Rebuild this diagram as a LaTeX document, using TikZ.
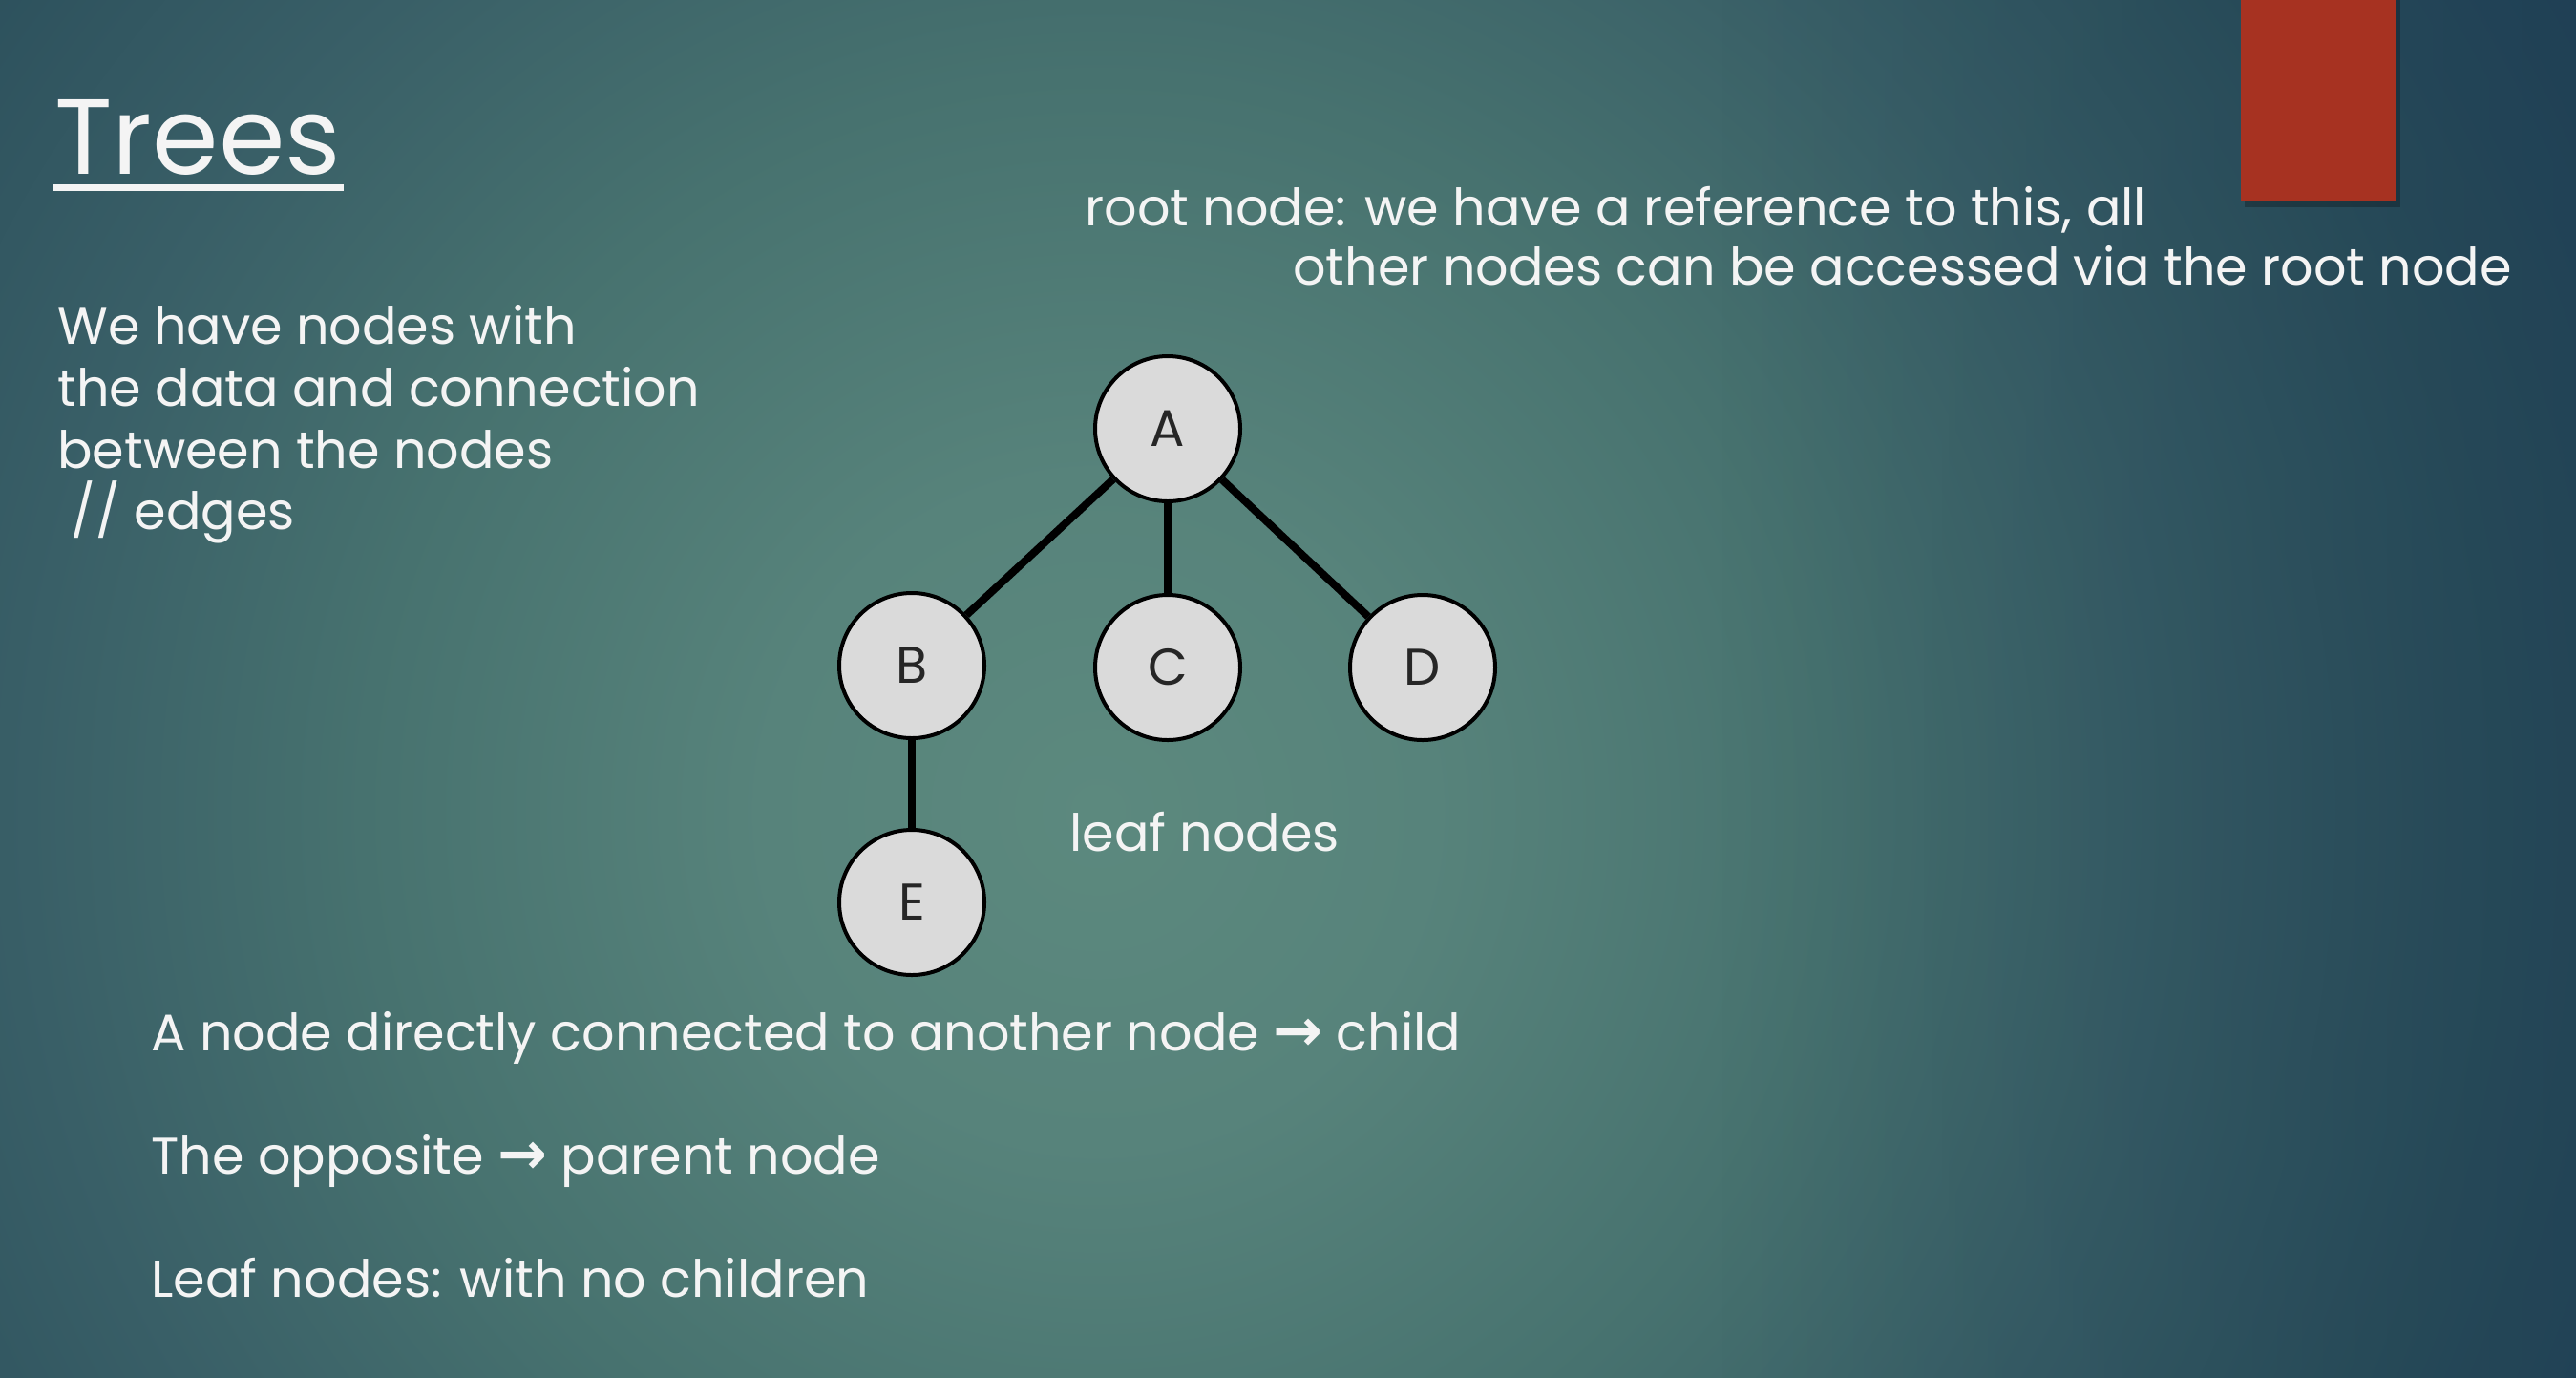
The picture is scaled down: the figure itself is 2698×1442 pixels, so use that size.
\documentclass[tikz,border=0pt]{standalone}
\usepackage{fontspec}
\setmainfont{Poppins}
\newfontfamily\symfont{DejaVu Sans}
\usetikzlibrary{calc,fadings}
\definecolor{bgin}{HTML}{5C897E}
\definecolor{bgA}{HTML}{57837B}
\definecolor{bgB}{HTML}{47726F}
\definecolor{bgC}{HTML}{395F67}
\definecolor{bgD}{HTML}{2C505C}
\definecolor{bgout}{HTML}{23445A}
\definecolor{bgdark}{HTML}{1C3C50}
\definecolor{txt}{HTML}{F4F4F4}
\definecolor{nodefill}{HTML}{DADADA}
\definecolor{redbox}{HTML}{A73221}
% the edge of the shaded circle is at 25bp
\pgfdeclareradialshading{bgshade}{\pgfpoint{0bp}{0bp}}{color(0bp)=(bgin); color(5bp)=(bgA); color(11bp)=(bgB); color(16bp)=(bgC); color(21bp)=(bgD); color(25bp)=(bgout); color(50bp)=(bgout)}
\tikzset{
  treenode/.style={circle, draw=black, line width=2pt, fill=nodefill, minimum size=76pt, inner sep=0pt, font=\fontsize{27}{30}\selectfont, text=black!85},
  treeedge/.style={line width=4pt, black},
  bodytext/.style={anchor=base west, inner sep=0pt, text=txt, font=\fontsize{27}{33}\selectfont},
}
\newcommand{\rarr}{{\symfont\bfseries\fontsize{31}{33}\selectfont →}}
\begin{document}
\begin{tikzpicture}[x=0.5pt,y=-0.5pt]
\useasboundingbox (0,0) rectangle (2698,1442);
\begin{scope}
\clip (0,0) rectangle (2698,1442);
\fill[bgout] (0,0) rectangle (2698,1442);
\shade[shading=bgshade] (1150,850) circle[radius=1750];
\fill[bgdark, opacity=0.45, path fading=west] (1800,-40) rectangle (2740,1480);
\end{scope}
% red box with shadow
\fill[black, opacity=0.25] (2351,0) rectangle (2514,217);
\fill[redbox] (2347,0) rectangle (2509,210);
% title
\node[anchor=base west, inner sep=0pt, text=txt, font=\fontsize{56}{64}\selectfont] (title) at (57,182) {Trees};
\draw[txt, line width=3.5pt] ($(title.base west)+(-2,14)$) -- ($(title.base east)+(2,14)$);
% left paragraph
\node[bodytext] (l1) at (60,360) {We have nodes with};
\node[bodytext] (l2) at (60,425) {the data and connection};
\node[bodytext] (l3) at (60,490) {between the nodes};
\node[bodytext] (l4) at (60,554) {\ // edges};
% root text
\node[bodytext] (r1) at (1136,236) {root node: we have a reference to this, all};
\node[bodytext] (r2) at (1354,298) {other nodes can be accessed via the root node};
% tree
\node[treenode] (A) at (1223,449) {A};
\node[treenode] (B) at (955,697) {B};
\node[treenode] (C) at (1223,699) {C};
\node[treenode] (D) at (1490,699) {D};
\node[treenode] (E) at (955,945) {E};
\draw[treeedge] (A) -- (B);
\draw[treeedge] (A) -- (C);
\draw[treeedge] (A) -- (D);
\draw[treeedge] (B) -- (E);
\node[bodytext] (leaf) at (1120,891) {leaf nodes};
% bottom
\node[bodytext] (b1) at (158,1100) {A node directly connected to another node \rarr{} child};
\node[bodytext] (b2) at (158,1229) {The opposite \rarr{} parent node};
\node[bodytext] (b3) at (158,1358) {Leaf nodes: with no children};
\end{tikzpicture}
\end{document}
